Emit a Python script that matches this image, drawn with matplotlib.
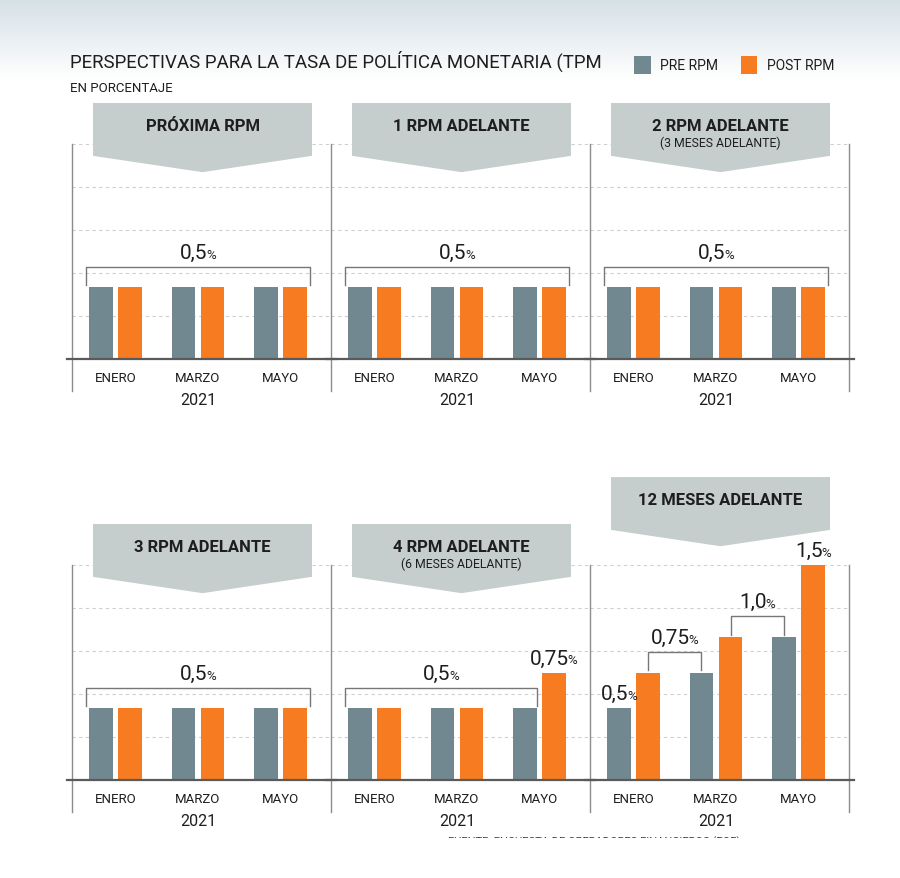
import matplotlib.pyplot as plt
import numpy as np
from matplotlib.patches import Polygon, Rectangle

plt.rcParams['font.family'] = ['Roboto', 'DejaVu Sans']

# data
months = ['ENERO', 'MARZO', 'MAYO']
year = '2021'
titles = ['PRÓXIMA RPM', '1 RPM ADELANTE', '2 RPM ADELANTE',
          '3 RPM ADELANTE', '4 RPM ADELANTE', '12 MESES ADELANTE']
subtitles = ['', '', '(3 MESES ADELANTE)', '', '(6 MESES ADELANTE)', '']
pre_rpm = [[0.5, 0.5, 0.5], [0.5, 0.5, 0.5], [0.5, 0.5, 0.5],
           [0.5, 0.5, 0.5], [0.5, 0.5, 0.5], [0.5, 0.75, 1.0]]
post_rpm = [[0.5, 0.5, 0.5], [0.5, 0.5, 0.5], [0.5, 0.5, 0.5],
            [0.5, 0.5, 0.5], [0.5, 0.5, 0.75], [0.75, 1.0, 1.5]]

# brackets (bar index: 0=pre ene, 1=post ene, 2=pre mar, 3=post mar, 4=pre may, 5=post may)
bracket_panel = [0, 1, 2, 3, 4, 5, 5]
bracket_from = [0, 0, 0, 0, 0, 1, 3]
bracket_to = [5, 5, 5, 5, 4, 2, 4]
bracket_value = [0.5, 0.5, 0.5, 0.5, 0.5, 0.75, 1.0]
bracket_label = ['0,5', '0,5', '0,5', '0,5', '0,5', '0,75', '1,0']
bracket_edges = [True, True, True, True, True, False, False]

# labels on single bars
single_panel = [4, 5, 5]
single_bar = [5, 0, 5]
single_value = [0.75, 0.5, 1.5]
single_label = ['0,75', '0,5', '1,5']

PRE_COLOR = '#728891'
POST_COLOR = '#f77b20'
BOX_COLOR = '#c5cecd'
TEXT = '#1e1e1e'

W, H = 900, 879
fig = plt.figure(figsize=(W / 100, H / 100), dpi=100)

# background gradient at the top
bg = fig.add_axes([0, 0, 1, 1], zorder=-10)
grad = np.ones((H, 1, 3))
top = np.array([0.835, 0.88, 0.90])
t = np.clip(np.arange(H) / 80.0, 0, 1)[:, None]
grad[:, 0, :] = top * (1 - t) + 1.0 * t
bg.imshow(grad, aspect='auto', extent=[0, 1, 0, 1], origin='upper')
bg.axis('off')

fig.text(70 / W, 1 - 61 / H, 'PERSPECTIVAS PARA LA TASA DE POLÍTICA MONETARIA (TPM',
         fontsize=13.4, color=TEXT, va='center', ha='left')
fig.text(70 / W, 1 - 89 / H, 'EN PORCENTAJE', fontsize=9.5, color=TEXT,
         va='center', ha='left')

offset = 0.176
width = 0.29
x = np.arange(len(months))
panel_left = [72, 331, 590]
panel_w = 259
row_bottom = [392, 813]
ax_h = 247
ymin = -0.223

axes = []
for i in range(6):
    r, c = divmod(i, 3)
    ax = fig.add_axes([panel_left[c] / W, 1 - row_bottom[r] / H, panel_w / W, ax_h / H])
    ax.patch.set_visible(False)
    ax.set_xlim(-0.527, 2.612)
    ax.set_ylim(ymin, 1.5)
    b1 = ax.bar(x - offset, pre_rpm[i], width, color=PRE_COLOR, zorder=2, label='PRE RPM')
    b2 = ax.bar(x + offset, post_rpm[i], width, color=POST_COLOR, zorder=2, label='POST RPM')
    ax.axhline(0, color='#5a5a5a', lw=1.6, zorder=3, xmin=-0.02, xmax=1.02, clip_on=False)
    ax.set_yticks([0.3, 0.6, 0.9, 1.2, 1.5])
    ax.yaxis.grid(True, ls=(0, (3, 3)), color='#cfcfcf', lw=0.8)
    ax.set_axisbelow(True)
    ax.tick_params(left=False, bottom=False, labelleft=False, labelbottom=False)
    for s in ['top', 'bottom', 'right']:
        ax.spines[s].set_visible(False)
    ax.spines['left'].set_color('#8c8c8c')
    ax.spines['left'].set_linewidth(1)
    if c == 2:
        ax.spines['right'].set_visible(True)
        ax.spines['right'].set_color('#8c8c8c')
        ax.spines['right'].set_linewidth(1)

    for j, m in enumerate(months):
        ax.annotate(m, (x[j], 0), xytext=(0, -13), textcoords='offset points',
                    ha='center', va='center', fontsize=9.5, color=TEXT)
    ax.annotate(year, (x[1], 0), xytext=(0, -29), textcoords='offset points',
                ha='center', va='center', fontsize=11.5, color=TEXT)

    # header arrow box
    lift = 0.19 if i == 5 else 0.0
    x0, x1 = 21 / panel_w, 240 / panel_w
    xm = (x0 + x1) / 2
    poly = Polygon([[x0, 1.166 + lift], [x1, 1.166 + lift], [x1, 0.952 + lift],
                    [xm, 0.886 + lift], [x0, 0.952 + lift]],
                   closed=True, transform=ax.transAxes, facecolor=BOX_COLOR,
                   edgecolor='none', clip_on=False, zorder=5)
    ax.add_patch(poly)
    ax.text(xm, 1.074 + lift, titles[i], transform=ax.transAxes, ha='center', va='center',
            fontsize=12, fontweight='bold', color=TEXT, zorder=6)
    if subtitles[i]:
        ax.text(xm, 1.005 + lift, subtitles[i], transform=ax.transAxes, ha='center',
                va='center', fontsize=8.8, color=TEXT, zorder=6)
    axes.append(ax)


def bar_pos(k):
    return x[k // 2] + (offset if k % 2 else -offset)


def value_label(ax, xv, yv, lab, dx=-3):
    main = ax.annotate(lab, (xv, yv), xytext=(dx, 6.5), textcoords='offset points',
                       ha='center', va='baseline', fontsize=15, color=TEXT, zorder=6)
    ax.annotate('%', xy=(1, yv), xycoords=(main, ax.transData), xytext=(-1.2, 6.5),
                textcoords='offset points', ha='left', va='baseline', fontsize=9.5,
                color=TEXT, zorder=6)


for p, f, t_, v, lab, edges in zip(bracket_panel, bracket_from, bracket_to,
                                   bracket_value, bracket_label, bracket_edges):
    ax = axes[p]
    xa, xb = bar_pos(f), bar_pos(t_)
    if edges:
        xa -= width / 2 + 0.035
        xb += width / 2 + 0.035 if t_ % 2 else width / 2
    top_y = v + 0.145
    ax.plot([xa, xa, xb, xb], [v + 0.015, top_y, top_y, v + 0.015],
            color='#777777', lw=1, zorder=4)
    value_label(ax, (xa + xb) / 2, top_y, lab)

for p, k, v, lab in zip(single_panel, single_bar, single_value, single_label):
    value_label(axes[p], bar_pos(k), v, lab)

fig.legend(handles=[b1, b2], labels=['PRE RPM', 'POST RPM'], loc='upper left',
           bbox_to_anchor=(634 / W, 1 - 57 / H), ncol=2, frameon=False, fontsize=10,
           handlelength=1.2, handleheight=1.6, handletextpad=0.7, columnspacing=1.6,
           borderaxespad=0, borderpad=0, labelcolor=TEXT)

# source line, cut off at the bottom like in the original
fig.text(448 / W, 1 - 842 / H, 'FUENTE: ENCUESTA DE OPERADORES FINANCIEROS (EOF).',
         fontsize=8, color='#444444', ha='left', va='center')
fig.patches.append(Rectangle((0, 0), 1, 1 - 839 / H, transform=fig.transFigure,
                             facecolor='white', edgecolor='none', zorder=20))

fig.savefig('out.png', dpi=100)
